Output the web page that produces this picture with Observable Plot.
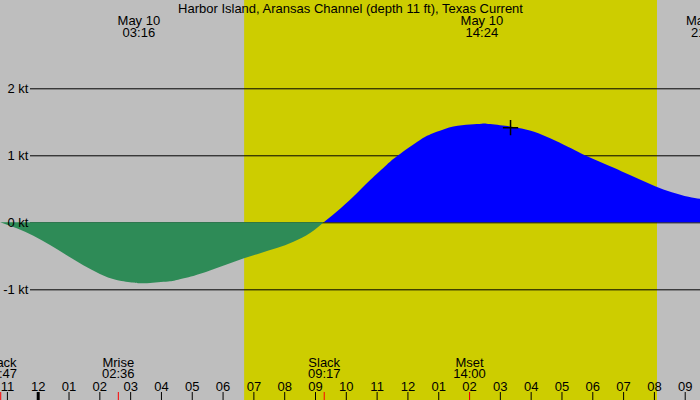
<!DOCTYPE html>
<html><head><meta charset="utf-8">
<script src="https://cdn.jsdelivr.net/npm/d3@7"></script>
<script src="https://cdn.jsdelivr.net/npm/@observablehq/plot@0.6"></script>
<style>html,body{margin:0;padding:0;overflow:hidden;background:#bebebe}</style>
</head><body><div id="chart"></div>
<script>
const title = "Harbor Island, Aransas Channel (depth 11 ft), Texas Current";

// hours relative to May 10 00:00
const ebbHours  = [-1.217, -0.68, -0.14, 0.40, 0.94, 1.48, 2.02, 2.56, 3.10, 3.267, 3.65, 4.29, 4.51, 5.05, 5.59, 6.13, 6.67, 7.22, 7.76, 8.30, 8.84, 9.283];
const ebbValues = [0, -0.09, -0.20, -0.34, -0.49, -0.64, -0.77, -0.86, -0.90, -0.91, -0.905, -0.88, -0.86, -0.80, -0.72, -0.63, -0.54, -0.46, -0.385, -0.29, -0.16, 0];

const floodHours  = [9.283, 9.71, 10.24, 10.79, 11.33, 11.70, 12.41, 12.95, 13.49, 14.03, 14.40, 14.57, 15.17, 15.71, 16.25, 16.79, 17.33, 17.76, 18.41, 18.96, 19.49, 20.04, 20.58, 21.12, 21.50];
const floodValues = [0, 0.16, 0.38, 0.63, 0.86, 1.00, 1.23, 1.35, 1.43, 1.46, 1.47, 1.47, 1.44, 1.40, 1.33, 1.22, 1.10, 1.00, 0.87, 0.76, 0.65, 0.54, 0.45, 0.38, 0.35];

const gridValues = [-1, 0, 1, 2];
const gridLabels = ["-1 kt", "0 kt", "1 kt", "2 kt"];

const tickHours  = [-1, 0, 1, 2, 3, 4, 5, 6, 7, 8, 9, 10, 11, 12, 13, 14, 15, 16, 17, 18, 19, 20, 21];
const tickLabels = ["11","12","01","02","03","04","05","06","07","08","09","10","11","12","01","02","03","04","05","06","07","08","09"];

const eventHours = [-1.217, 2.6, 9.283, 14.0];
const eventNames = ["Slack", "Mrise", "Slack", "Mset"];
const eventTimes = ["22:47", "02:36", "09:17", "14:00"];

const peakHours = [3.267, 14.4, 21.717];
const peakDates = ["May 10", "May 10", "May 10"];
const peakTimes = ["03:16", "14:24", "21:43"];

const daylight = [6.70, 20.10];   // sunrise, sunset
const markerHour = 15.33, markerValue = 1.42;

const xDomain = [-1.224, 21.496];
const yDomain = [-2.652, 3.318];

const chart = Plot.plot({
  width: 700, height: 400, margin: 0,
  x: {domain: xDomain, axis: null},
  y: {domain: yDomain, axis: null},
  style: {fontFamily: "'Liberation Sans', Arial, sans-serif", background: "#bebebe", overflow: "hidden", color: "black"},
  marks: [
    Plot.rect([daylight], {x1: d => d[0], x2: d => d[1], fill: "#cdcd00"}),
    Plot.ruleY(gridValues, {y: d => d, insetLeft: 30, stroke: "black"}),
    Plot.areaY(ebbHours, {x: d => d, y: (d, i) => ebbValues[i], fill: "#2e8b57", curve: "natural"}),
    Plot.areaY(floodHours, {x: d => d, y: (d, i) => floodValues[i], fill: "#0000ff", curve: "natural"}),
    Plot.text(gridValues, {y: d => d, text: (d, i) => gridLabels[i], frameAnchor: "left", dx: 28, textAnchor: "end", fontSize: 13, fill: "black"}),
    Plot.ruleX(tickHours.filter(h => h !== 0), {x: d => d, insetTop: 392, stroke: "black"}),
    Plot.ruleX(tickHours.filter(h => h === 0), {x: d => d, insetTop: 392, stroke: "black", strokeWidth: 3}),
    Plot.ruleX(eventHours, {x: d => d, insetTop: 392, stroke: "red"}),
    Plot.text(tickHours, {x: d => d, text: (d, i) => tickLabels[i], frameAnchor: "bottom", lineAnchor: "bottom", dy: -10, fontSize: 13, fill: "black"}),
    Plot.text(eventHours, {x: d => d, text: (d, i) => eventNames[i] + "\n" + eventTimes[i], frameAnchor: "bottom", lineAnchor: "bottom", dy: -22.5, lineHeight: 0.88, fontSize: 13, fill: "black"}),
    Plot.text(peakHours, {x: d => d, text: (d, i) => peakDates[i] + "\n" + peakTimes[i], frameAnchor: "top", lineAnchor: "bottom", dy: 36, lineHeight: 0.88, fontSize: 13, fill: "black"}),
    Plot.text([title], {text: d => d, frameAnchor: "top", lineAnchor: "bottom", dy: 12.5, fontSize: 13, fill: "black"}),
    Plot.dot([markerHour], {x: d => d, y: () => markerValue, symbol: "plus", stroke: "black", r: 5, strokeWidth: 1.5})
  ]
});
document.getElementById("chart").appendChild(chart);
</script>
</body></html>
